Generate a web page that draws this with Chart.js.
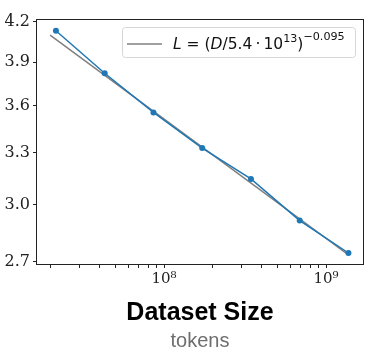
<!DOCTYPE html>
<html>
<head>
<meta charset="utf-8">
<script src="https://cdn.jsdelivr.net/npm/chart.js@4"></script>
<style>
  html, body { margin: 0; padding: 0; background: #fff; }
  #wrap { width: 376px; height: 360px; }
</style>
</head>
<body>
<div id="wrap"><canvas id="datasetSize"></canvas></div>
<script>
// values
const tokens = [2.15e7, 4.3e7, 8.6e7, 1.72e8, 3.44e8, 6.88e8, 1.376e9];
const loss = [4.133, 3.821, 3.555, 3.329, 3.145, 2.913, 2.744];
const fitTokens = [1.98e7, 1.376e9];
const fitLoss = [4.10, 2.735];
const yTicks = [2.7, 3.0, 3.3, 3.6, 3.9, 4.2];
const xRange = [1.62e7, 1.716e9];
const yRange = [2.684, 4.223];

const SUP = "⁰¹²³⁴⁵⁶⁷⁸⁹";
const xTicks = [];
for (let e = 7; e <= 9; e++) {
  for (let m = 1; m <= 9; m++) {
    const v = m * Math.pow(10, e);
    if (v >= xRange[0] && v <= xRange[1]) xTicks.push(v);
  }
}

// legend text, matplotlib mathtext style: [text, italic, superscript level]
const keyText = [
  ["L", true, 0], [" = (", false, 0], ["D", true, 0], ["/5.4\u2009·\u200910", false, 0],
  ["13", false, 1], [")", false, 0], ["−0.095", false, 2]
];

const frameAndKey = {
  id: "frameAndKey",
  afterDraw(chart) {
    const { ctx, chartArea: a } = chart;
    ctx.save();
    // axes box
    ctx.strokeStyle = "#222";
    ctx.lineWidth = 1;
    ctx.strokeRect(a.left + 0.5, a.top + 0.5, a.right - a.left - 1, a.bottom - a.top - 1);

    // legend box
    const bx = a.left + 86, by = a.top + 8, bw = a.right - 9 - bx, bh = 30;
    ctx.beginPath();
    ctx.roundRect(bx + 0.5, by + 0.5, bw, bh, 3);
    ctx.fillStyle = "rgba(255,255,255,0.8)";
    ctx.fill();
    ctx.strokeStyle = "#d6d6d6";
    ctx.stroke();

    ctx.beginPath();
    ctx.moveTo(bx + 5, by + 17);
    ctx.lineTo(bx + 40, by + 17);
    ctx.strokeStyle = "#808080";
    ctx.lineWidth = 1.5;
    ctx.stroke();

    const size = 15.5;
    let x = bx + 51;
    const base = by + 22;
    ctx.fillStyle = "#111";
    ctx.textBaseline = "alphabetic";
    keyText.forEach(([t, it, sup]) => {
      const fs = sup ? size * 0.72 : size;
      ctx.font = (it ? "italic " : "") + fs + "px 'DejaVu Sans'";
      const y = base - (sup === 1 ? 7 : sup === 2 ? 9.5 : 0);
      ctx.fillText(t, x, y);
      x += ctx.measureText(t).width;
    });
    ctx.restore();
  }
};

new Chart(document.getElementById("datasetSize"), {
  type: "line",
  data: {
    datasets: [
      {
        label: "data",
        data: tokens.map((t, i) => ({ x: t, y: loss[i] })),
        borderColor: "#1f77b4",
        backgroundColor: "#1f77b4",
        borderWidth: 1.5,
        pointRadius: 3,
        pointBorderWidth: 0,
      },
      {
        label: "fit",
        data: fitTokens.map((t, i) => ({ x: t, y: fitLoss[i] })),
        borderColor: "#808080",
        borderWidth: 1.5,
        pointRadius: 0,
      },
    ],
  },
  options: {
    responsive: true,
    maintainAspectRatio: false,
    animation: false,
    layout: { padding: { top: 19, right: 12, left: 0, bottom: 0 } },
    plugins: {
      legend: { display: false },
      tooltip: { enabled: false },
      subtitle: {
        display: true,
        position: "bottom",
        fullSize: false,
        text: "tokens",
        color: "#6e6e6e",
        font: { family: "'Liberation Sans', Arial, sans-serif", size: 20, weight: "normal" },
        padding: { top: 0, bottom: 7 },
      },
    },
    scales: {
      x: {
        type: "logarithmic",
        min: xRange[0],
        max: xRange[1],
        afterBuildTicks: (s) => { s.ticks = xTicks.map((v) => ({ value: v })); },
        afterFit: (s) => { s.height = 64; },
        border: { display: false },
        grid: { drawOnChartArea: false, drawTicks: true, tickLength: 3, color: "#222" },
        ticks: {
          autoSkip: false,
          maxRotation: 0,
          padding: 2,
          color: "#222",
          font: { family: "'DejaVu Serif', serif", size: 15 },
          callback: (v) => {
            const e = Math.round(Math.log10(v));
            if (Math.abs(v - Math.pow(10, e)) > 1) return "";
            return "10" + String(e).split("").map((d) => SUP[+d]).join("");
          },
        },
        title: {
          display: true,
          text: "Dataset Size",
          color: "#000",
          font: { family: "'Liberation Sans', Arial, sans-serif", size: 25, weight: "bold" },
          padding: { top: 0, bottom: 1 },
        },
      },
      y: {
        type: "logarithmic",
        min: yRange[0],
        max: yRange[1],
        afterBuildTicks: (s) => { s.ticks = yTicks.map((v) => ({ value: v })); },
        afterFit: (s) => { s.width = 36; },
        border: { display: false },
        grid: { drawOnChartArea: false, drawTicks: true, tickLength: 3, color: "#222" },
        ticks: {
          autoSkip: false,
          padding: 3,
          color: "#222",
          font: { family: "'DejaVu Serif', serif", size: 16 },
          callback: (v) => Number(v).toFixed(1),
        },
      },
    },
  },
  plugins: [frameAndKey],
});
</script>
</body>
</html>
